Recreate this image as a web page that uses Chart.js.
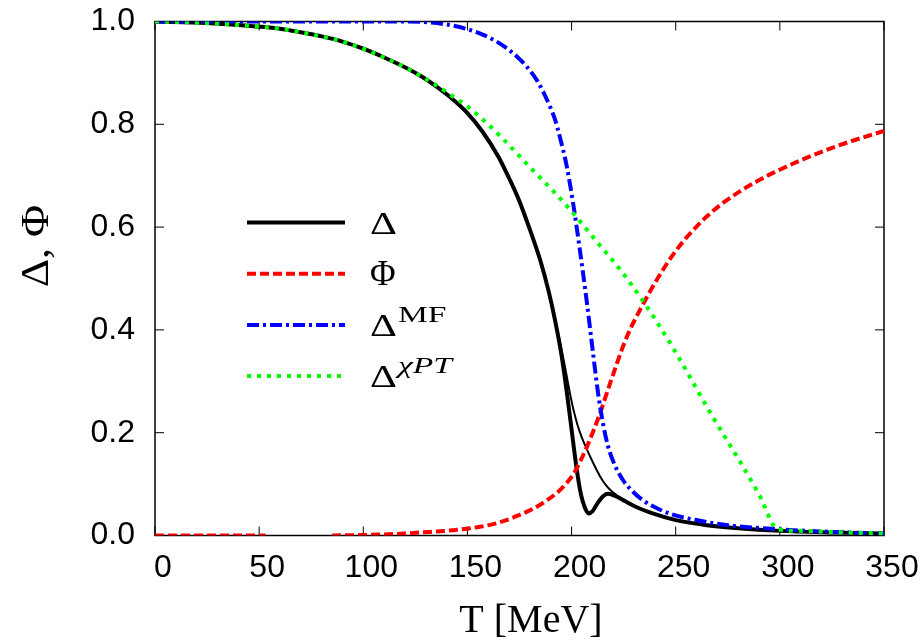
<!DOCTYPE html>
<html>
<head>
<meta charset="utf-8">
<script src="https://cdn.jsdelivr.net/npm/chart.js@4.4.0/dist/chart.umd.min.js"></script>
<style>
  html, body { margin: 0; padding: 0; background: #fff; }
</style>
</head>
<body>
<canvas id="chart" width="922" height="644"></canvas>
<script>
// T [MeV] and order parameters
const deltaT = [0, 25, 50, 60, 70, 80, 90, 100, 110, 120, 128, 135, 142, 149, 157, 165, 170, 175, 180, 185, 189, 192, 195, 198, 200.5, 202.5, 204.5, 206.5, 208.2, 210, 212.5, 215, 217.5, 221, 226, 233, 242, 250, 265, 280, 300, 325, 350];
const deltaV = [1.0, 0.997, 0.99, 0.986, 0.979, 0.971, 0.961, 0.947, 0.93, 0.911, 0.893, 0.874, 0.852, 0.826, 0.787, 0.736, 0.695, 0.65, 0.595, 0.535, 0.475, 0.42, 0.355, 0.27, 0.19, 0.128, 0.08, 0.053, 0.043, 0.047, 0.063, 0.076, 0.081, 0.077, 0.066, 0.052, 0.039, 0.03, 0.02, 0.014, 0.009, 0.006, 0.004];

// second (thin) Delta branch through the transition
const thinT = [189, 192, 194, 196.5, 199.3, 201, 203, 205, 207.3, 210.5, 213.7, 216.5, 219, 221.5];
const thinV = [0.475, 0.42, 0.385, 0.335, 0.275, 0.243, 0.213, 0.19, 0.168, 0.14, 0.115, 0.098, 0.087, 0.079];

const phiT = [0, 25, 53, 60, 85, 100, 110, 120, 132, 145, 156, 165, 175, 182, 188, 193, 197, 201, 204, 207.3, 210.5, 213.6, 217.5, 221.7, 225, 228, 233, 241, 249, 257, 265, 273, 281, 289, 297, 313, 329, 350];
const phiV = [0, 0, 0, null, 0, 0.001, 0.002, 0.004, 0.007, 0.011, 0.017, 0.025, 0.04, 0.053, 0.068, 0.083, 0.099, 0.12, 0.143, 0.172, 0.204, 0.237, 0.284, 0.334, 0.371, 0.4, 0.44, 0.498, 0.548, 0.588, 0.621, 0.648, 0.67, 0.689, 0.706, 0.735, 0.76, 0.787];

const mfT = [0, 60, 120, 132, 141.7, 150, 157.6, 166, 173.7, 178.5, 183.3, 186.5, 189.7, 192, 194.4, 197.6, 200.8, 204, 207.3, 209.7, 212.8, 215, 217.6, 221, 224.8, 229, 234.4, 241, 249, 260, 275, 300, 325, 350];
const mfV = [1.0, 1.0, 1.0, 0.998, 0.993, 0.985, 0.974, 0.956, 0.932, 0.912, 0.886, 0.862, 0.834, 0.81, 0.775, 0.72, 0.645, 0.555, 0.455, 0.375, 0.275, 0.22, 0.172, 0.135, 0.107, 0.087, 0.068, 0.053, 0.04, 0.03, 0.02, 0.012, 0.007, 0.004];

const ptT = [0, 25, 50, 60, 70, 80, 90, 100, 110, 120, 128, 135, 142, 150, 158, 166, 175, 183, 191, 201, 212, 223, 234, 241.5, 249, 257, 265, 273, 281, 290, 299, 310, 330, 350];
const ptV = [1.0, 0.997, 0.99, 0.986, 0.979, 0.971, 0.961, 0.947, 0.93, 0.911, 0.893, 0.876, 0.857, 0.835, 0.807, 0.776, 0.738, 0.704, 0.671, 0.626, 0.572, 0.519, 0.458, 0.412, 0.363, 0.307, 0.25, 0.196, 0.143, 0.08, 0.012, 0.009, 0.006, 0.004];

const xTicks = [0, 50, 100, 150, 200, 250, 300, 350];
const yTicks = [0, 0.2, 0.4, 0.6, 0.8, 1.0];

function pts(ts, vs) {
    return ts.map((t, i) => ({ x: t, y: vs[i] }));
}

const serif = '"Liberation Serif", "DejaVu Serif", serif';
const sans = '"Liberation Sans", Arial, sans-serif';

// legend entries: dataset index, symbol, its size and stretch, superscript
const legendItems = [
    { ds: 4, text: 'Δ', size: 31, sx: 1.35, sup: '', italic: false },
    { ds: 2, text: 'Φ', size: 35, sx: 1.0, sup: '', italic: false },
    { ds: 1, text: 'Δ', size: 31, sx: 1.35, sup: 'MF', italic: false },
    { ds: 0, text: 'Δ', size: 31, sx: 1.35, sup: 'χPT', italic: true }
];

// stretched text (the original uses the wide TeX fonts)
function wideText(ctx, str, x, y, sx) {
    ctx.save();
    ctx.translate(x, y);
    ctx.scale(sx, 1);
    ctx.fillText(str, 0, 0);
    const w = ctx.measureText(str).width * sx;
    ctx.restore();
    return w;
}

// box with inward ticks on all four sides, drawn under the curves
const framePlugin = {
    id: 'frame',
    beforeDatasetsDraw(chart) {
        const { ctx, chartArea: a, scales } = chart;
        ctx.save();
        ctx.strokeStyle = '#000';
        ctx.lineWidth = 1.5;
        ctx.strokeRect(a.left, a.top, a.right - a.left, a.bottom - a.top);
        ctx.lineWidth = 1;
        ctx.beginPath();
        xTicks.forEach(v => {
            const px = scales.x.getPixelForValue(v);
            ctx.moveTo(px, a.bottom); ctx.lineTo(px, a.bottom - 9);
            ctx.moveTo(px, a.top); ctx.lineTo(px, a.top + 9);
        });
        yTicks.forEach(v => {
            const py = scales.y.getPixelForValue(v);
            ctx.moveTo(a.left, py); ctx.lineTo(a.left + 9, py);
            ctx.moveTo(a.right, py); ctx.lineTo(a.right - 9, py);
        });
        ctx.stroke();
        ctx.restore();
    }
};

// axis titles and the key inside the plot
const textPlugin = {
    id: 'texts',
    afterDraw(chart) {
        const { ctx } = chart;
        ctx.save();
        ctx.fillStyle = '#000';
        ctx.font = '40px ' + serif;
        ctx.textAlign = 'center';
        ctx.textBaseline = 'alphabetic';
        ctx.fillText('T [MeV]', 531, 632);

        ctx.save();
        ctx.translate(48, 246);
        ctx.rotate(-Math.PI / 2);
        ctx.scale(1.1, 1);
        ctx.fillText('Δ, Φ', 0, 0);
        ctx.restore();

        ctx.textAlign = 'left';
        legendItems.forEach((item, i) => {
            const ds = chart.data.datasets[item.ds];
            const y = 222.5 + i * 51.2;
            ctx.save();
            ctx.strokeStyle = ds.borderColor;
            ctx.lineWidth = ds.borderWidth;
            ctx.setLineDash(ds.borderDash || []);
            ctx.beginPath();
            ctx.moveTo(247, y);
            ctx.lineTo(345, y);
            ctx.stroke();
            ctx.restore();

            ctx.font = item.size + 'px ' + serif;
            const w = wideText(ctx, item.text, 370, y + 11, item.sx);
            if (item.sup) {
                ctx.font = (item.italic ? 'italic ' : '') + '24px ' + serif;
                wideText(ctx, item.sup, 370 + w + 1, y - 3, 1.4);
            }
        });
        ctx.restore();
    }
};

const ctx = document.getElementById('chart').getContext('2d');
new Chart(ctx, {
    type: 'line',
    data: {
        datasets: [
            {
                label: 'Delta chiPT',
                data: pts(ptT, ptV),
                borderColor: '#00ff00',
                borderWidth: 4,
                borderDash: [4, 6]
            },
            {
                label: 'Delta MF',
                data: pts(mfT, mfV),
                borderColor: '#0000ff',
                borderWidth: 4,
                borderDash: [12, 4, 3, 4]
            },
            {
                label: 'Phi',
                data: pts(phiT, phiV),
                borderColor: '#ff0000',
                borderWidth: 4,
                borderDash: [9, 4]
            },
            {
                label: 'Delta (second branch)',
                data: pts(thinT, thinV),
                borderColor: '#000000',
                borderWidth: 2
            },
            {
                label: 'Delta',
                data: pts(deltaT, deltaV),
                borderColor: '#000000',
                borderWidth: 4
            }
        ]
    },
    options: {
        responsive: false,
        animation: false,
        parsing: false,
        spanGaps: false,
        layout: { padding: { top: 21.5, right: 38, left: 0, bottom: 0 } },
        elements: {
            point: { radius: 0 },
            line: { cubicInterpolationMode: 'monotone', fill: false }
        },
        plugins: {
            legend: { display: false },
            tooltip: { enabled: false }
        },
        scales: {
            x: {
                type: 'linear',
                min: 0,
                max: 350,
                afterFit: s => {
                    s.height = 108.5;
                    s.paddingLeft = 0;
                    s.paddingRight = 0;
                },
                afterBuildTicks: s => { s.ticks = xTicks.map(v => ({ value: v })); },
                grid: { display: false, drawTicks: false },
                border: { display: false },
                ticks: {
                    padding: 13,
                    labelOffset: 8,
                    maxRotation: 0,
                    autoSkip: false,
                    color: '#000',
                    font: { family: sans, size: 32 }
                }
            },
            y: {
                type: 'linear',
                min: 0,
                max: 1,
                afterFit: s => {
                    s.width = 155;
                    s.paddingTop = 0;
                    s.paddingBottom = 0;
                },
                afterBuildTicks: s => { s.ticks = yTicks.map(v => ({ value: v })); },
                grid: { display: false, drawTicks: false },
                border: { display: false },
                ticks: {
                    padding: 20,
                    color: '#000',
                    font: { family: sans, size: 32 },
                    callback: v => v.toFixed(1)
                }
            }
        }
    },
    plugins: [framePlugin, textPlugin]
});
</script>
</body>
</html>
